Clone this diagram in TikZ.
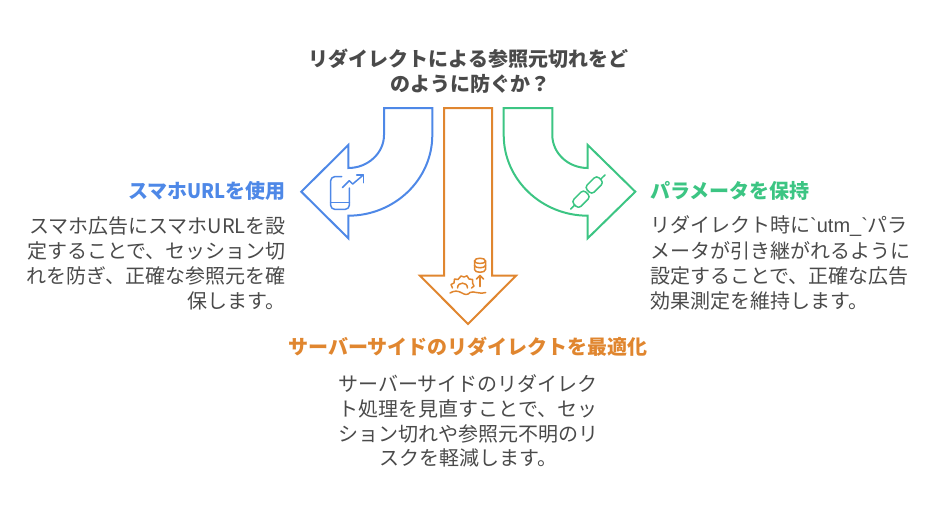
\documentclass[tikz,border=0pt]{standalone}
\usepackage{fontspec}
\setmainfont{Noto Sans CJK JP}
\newfontfamily\plainlat{Liberation Sans}
\newcommand{\gravemark}{\symbol{96}}
\definecolor{cblue}{HTML}{4E88E7}
\definecolor{corange}{HTML}{E0862F}
\definecolor{cgreen}{HTML}{3CC583}
\definecolor{ctext}{HTML}{4A4A4A}
\tikzset{
  arrowshape/.style={line width=2pt,line join=miter},
  iconline/.style={line width=1.5pt,line cap=round,line join=round},
  bodytext/.style={inner sep=0pt,text=ctext,font=\fontsize{20}{25}\selectfont},
  headtext/.style={inner sep=0pt,font=\fontsize{20}{25}\selectfont\bfseries},
}
\begin{document}
\begin{tikzpicture}[x=1pt,y=-1pt]
\useasboundingbox (0,0) rectangle (936,517);
% arrows
\draw[arrowshape,cblue] (384,108) -- (432.3,108) -- (432.3,135)
  .. controls (432.3,180) and (394,215.7) .. (348.3,215.7)
  -- (348.3,238.3) -- (301.3,191.7) -- (348.3,145) -- (348.3,168)
  .. controls (368,168) and (384,153) .. (384,135) -- cycle;
\draw[arrowshape,corange] (444,108) -- (492,108) -- (492,275.7) -- (516,275.7) -- (468,324) -- (420,275.7) -- (444,275.7) -- cycle;
\draw[arrowshape,cgreen] (552.3,108) -- (503.7,108) -- (503.7,135)
  .. controls (503.7,180) and (542,215.7) .. (587.7,215.7)
  -- (587.7,238.3) -- (635.3,191.7) -- (587.7,145) -- (587.7,168)
  .. controls (568,168) and (552.3,153) .. (552.3,135) -- cycle;
% phone icon
\draw[iconline,cblue,rounded corners=4pt] (341.7,176.7) -- (330.7,176.7) -- (330.7,209.3) -- (349.3,209.3) -- (349.3,188);
\draw[iconline,cblue] (330.7,202.3) -- (349.3,202.3);
\draw[iconline,cblue] (342.3,187.7) -- (349.3,180.7) -- (352.7,184) -- (363.3,175);
\draw[iconline,cblue] (356.7,175) -- (363.3,175) -- (363.3,182.7);
% database / gear icon
\draw[iconline,corange] (474.5,261) .. controls (474.5,257.3) and (485.5,257.3) .. (485.5,261) -- (485.5,269.5) .. controls (485.5,273.2) and (474.5,273.2) .. (474.5,269.5) -- cycle;
\draw[iconline,corange] (474.5,261) .. controls (474.5,264.3) and (485.5,264.3) .. (485.5,261);
\draw[iconline,corange] (474.5,265.3) .. controls (474.5,268.6) and (485.5,268.6) .. (485.5,265.3);
\draw[iconline,corange] (480,286.5) -- (480,275.5);
\draw[iconline,corange] (476.5,279) -- (480,275.5) -- (483.5,279);
\draw[iconline,corange] (450,293) .. controls (454,290.5) and (458,290.5) .. (462,293) .. controls (465,295) and (468,295) .. (470,292.5) .. controls (474,290.5) and (478,294.5) .. (485.7,292.5);
\draw[iconline,corange] (452.5,288) -- (451,284.5) -- (454,283) -- (454.5,279) -- (458,279.5) -- (461,276) -- (464,277) -- (467,275.8) -- (469,279) -- (472.5,279.5) -- (472.5,283) -- (474,286) -- (471.5,288);
\draw[iconline,corange] (457.5,288) .. controls (457.5,281.5) and (467.5,281.5) .. (467.5,288);
% chain icon
\draw[iconline,cgreen] (570.7,209) -- (574.5,205.2);
\draw[iconline,cgreen] (601,178.8) -- (605,175);
\draw[iconline,cgreen,rounded corners=3.5pt] (590.54,196.74) -- (583.46,189.66) -- (571.46,201.66) -- (578.54,208.74) -- cycle;
\draw[iconline,cgreen,rounded corners=3.5pt] (603.74,182.54) -- (596.66,175.46) -- (584.66,187.46) -- (591.74,194.54) -- cycle;
% title
\node[headtext,text=ctext,anchor=center] (title1) at (468.5,59) {リダイレクトによる参照元切れをど};
\node[headtext,text=ctext,anchor=center] (title2) at (470,84) {のように防ぐか？};
% left
\node[headtext,text=cblue,anchor=east] (lh) at (286,191) {スマホ\scalebox{0.925}[1]{URL}を使用};
\node[bodytext,anchor=east] (l1) at (286,226) {スマホ広告にスマホURLを設};
\node[bodytext,anchor=east] (l2) at (286,251) {定することで、セッション切};
\node[bodytext,anchor=east] (l3) at (286,276) {れを防ぎ、正確な参照元を確};
\node[bodytext,anchor=east] (l4) at (286,301) {保します。};
% right
\node[headtext,text=cgreen,anchor=west] (rh) at (650,191) {パラメータを保持};
\node[bodytext,anchor=west] (r1) at (650,226) {リダイレクト時に{\plainlat\gravemark utm\_\gravemark}パラ};
\node[bodytext,anchor=west] (r2) at (650,251) {メータが引き継がれるように};
\node[bodytext,anchor=west] (r3) at (650,276) {設定することで、正確な広告};
\node[bodytext,anchor=west] (r4) at (650,301) {効果測定を維持します。};
% bottom
\node[headtext,text=corange,anchor=center] (bh) at (468,347) {サーバーサイドのリダイレクトを最適化};
\node[bodytext,anchor=center] (b1) at (468,384) {サーバーサイドのリダイレク};
\node[bodytext,anchor=center] (b2) at (468,409) {ト処理を見直すことで、セッ};
\node[bodytext,anchor=center] (b3) at (468,434) {ション切れや参照元不明のリ};
\node[bodytext,anchor=center] (b4) at (468,458) {スクを軽減します。};
\end{tikzpicture}
\end{document}
